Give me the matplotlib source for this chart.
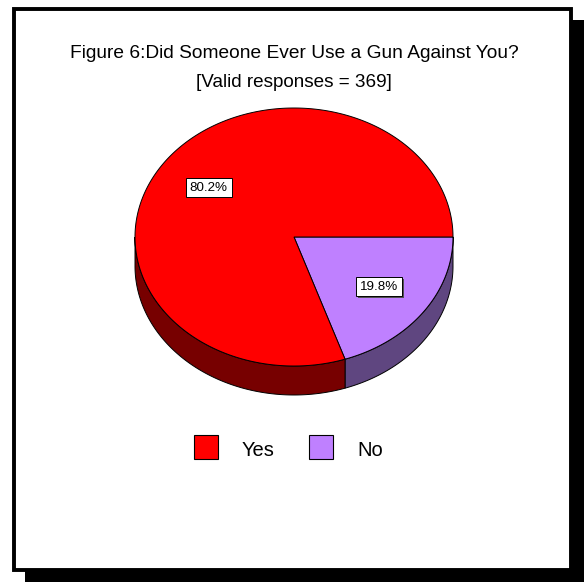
import numpy as np
import matplotlib.pyplot as plt
from matplotlib.patches import Polygon, Rectangle

plt.rcParams['font.family'] = ['Liberation Sans', 'DejaVu Sans']

labels = ["Yes", "No"]
shares = [80.2, 19.8]
top_colors = ["#ff0000", "#bf80ff"]
side_colors = ["#770000", "#5f4680"]
title = "Figure 6:Did Someone Ever Use a Gun Against You?"
subtitle = "[Valid responses = 369]"

W, H = 584, 582
fig = plt.figure(figsize=(W / 100, H / 100), dpi=100)
ax = fig.add_axes([0, 0, 1, 1])
ax.set_xlim(0, W)
ax.set_ylim(H, 0)
ax.axis('off')

# frame with drop shadow
ax.add_patch(Rectangle((25, 20), 559, 562, facecolor='black', edgecolor='none', zorder=0))
ax.add_patch(Rectangle((14, 9), 557, 561, facecolor='white', edgecolor='black', lw=2.8, zorder=1))

ax.text(294, 58, title, ha='center', va='baseline', fontsize=13.8, zorder=5)
ax.text(294, 87, subtitle, ha='center', va='baseline', fontsize=13.6, zorder=5)

# pie geometry (screen angles, clockwise from 3 o'clock)
cx, cy, rx, ry, depth = 294, 237, 159, 129, 29

def pt(a):
    return cx + rx * np.cos(a), cy + ry * np.sin(a)

# slices: No starts at 0 and goes clockwise, Yes takes the rest
fr = np.array(shares) / sum(shares)
no_span = fr[1] * 2 * np.pi
spans = {"No": (0.0, no_span), "Yes": (no_span, 2 * np.pi)}
order = [1, 0]

# side walls (only front half, angles 0..pi)
for i in order:
    a0, a1 = spans[labels[i]]
    s0, s1 = max(a0, 0), min(a1, np.pi)
    if s1 <= s0:
        continue
    t = np.linspace(s0, s1, 200)
    x, y = pt(t)
    xs = np.concatenate([x, x[::-1]])
    ys = np.concatenate([y, y[::-1] + depth])
    ax.add_patch(Polygon(np.column_stack([xs, ys]), closed=True, facecolor=side_colors[i],
                         edgecolor='black', lw=0.7, zorder=2))

# top faces
for i in order:
    a0, a1 = spans[labels[i]]
    t = np.linspace(a0, a1, 400)
    x, y = pt(t)
    xs = np.concatenate([[cx], x])
    ys = np.concatenate([[cy], y])
    ax.add_patch(Polygon(np.column_stack([xs, ys]), closed=True, facecolor=top_colors[i],
                         edgecolor='black', lw=0.7, zorder=3))

# data labels in boxes with a small shadow
bw, bh = 46, 19
for i in order:
    a0, a1 = spans[labels[i]]
    m = (a0 + a1) / 2
    lx, ly = cx + 0.66 * rx * np.cos(m), cy + 0.66 * ry * np.sin(m)
    ax.add_patch(Rectangle((lx - bw / 2 + 1.5, ly - bh / 2 + 1.5), bw, bh,
                           facecolor='#505050', edgecolor='none', zorder=4))
    ax.add_patch(Rectangle((lx - bw / 2, ly - bh / 2), bw, bh,
                           facecolor='white', edgecolor='black', lw=0.7, zorder=4.5))
    ax.text(lx, ly + 0.5, "%.1f%%" % shares[i], ha='center', va='center', fontsize=9.6, zorder=5)

# legend
leg_x = [194, 309]
for i, lab in enumerate(labels):
    ax.add_patch(Rectangle((leg_x[i], 435), 24, 24, facecolor=top_colors[i],
                           edgecolor='black', lw=0.8, zorder=5))
    ax.text(leg_x[i] + 48, 456, lab, ha='left', va='baseline', fontsize=14.5, zorder=5)

fig.savefig("out.png", dpi=100)
